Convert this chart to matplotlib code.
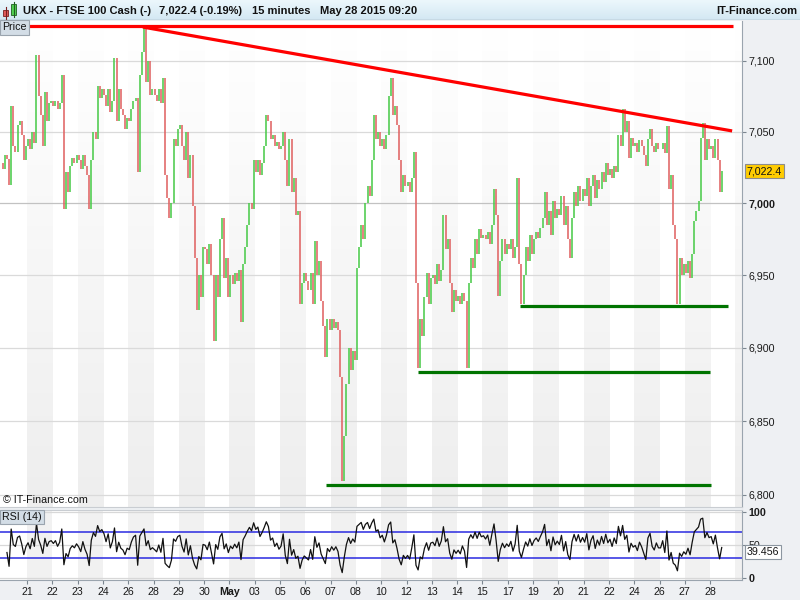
import numpy as np
import pandas as pd
import matplotlib
matplotlib.use('Agg')
import matplotlib.pyplot as plt
from matplotlib.colors import LinearSegmentedColormap
from matplotlib.patches import Rectangle

plt.rcParams['font.family'] = ['Liberation Sans', 'DejaVu Sans']

# UKX 15 min chart, resampled by eye to 12 closes per session (Apr 20 .. May 28 2015)
closes = [
    # Apr 20
    7024, 7034, 7031, 7013, 7068, 7040, 7036, 7055, 7058, 7048, 7030, 7040,
    # Apr 21
    7045, 7038, 7050, 7042, 7104, 7075, 7062, 7040, 7078, 7058, 7070, 7072,
    # Apr 22
    7068, 7072, 7066, 7070, 7090, 6996, 7022, 7008, 7026, 7032, 7028, 7034,
    # Apr 23
    7030, 7024, 7034, 7026, 7020, 6996, 7030, 7050, 7045, 7082, 7074, 7080,
    # Apr 24
    7076, 7068, 7080, 7064, 7072, 7102, 7058, 7080, 7066, 7062, 7052, 7060,
    # Apr 26/27
    7058, 7066, 7072, 7074, 7022, 7090, 7106, 7124, 7085, 7100, 7076, 7080,
    # Apr 28
    7076, 7072, 7080, 7070, 7088, 7020, 7004, 6990, 7000, 7045, 7040, 7052,
    # Apr 29
    7055, 7040, 7030, 7050, 7018, 7034, 6998, 6962, 6926, 6950, 6935, 6970,
    # Apr 30
    6968, 6958, 6972, 6950, 6905, 6950, 6935, 6975, 6990, 6948, 6962, 6935,
    # May 1
    6950, 6944, 6952, 6946, 6954, 6918, 6958, 6970, 6985, 7000, 6996, 7030,
    # May 3/4
    7022, 7030, 7020, 7028, 7040, 7062, 7058, 7045, 7048, 7040, 7043, 7038,
    # May 5
    7040, 7050, 7030, 7012, 7045, 7008, 7018, 6992, 6995, 6930, 6945, 6952,
    # May 6
    6946, 6940, 6952, 6930, 6974, 6950, 6960, 6932, 6915, 6894, 6920, 6912,
    # May 7
    6920, 6914, 6918, 6912, 6880, 6809, 6840, 6875, 6900, 6885, 6898, 6892,
    # May 8
    6955, 6970, 6985, 6975, 7000, 7012, 7005, 7030, 7062, 7045, 7050, 7040,
    # May 10/11
    7045, 7038, 7048, 7075, 7088, 7062, 7068, 7055, 7030, 7008, 7020, 7012,
    # May 12
    7015, 7008, 7018, 7036, 6945, 6886, 6920, 6908, 6935, 6952, 6930, 6948,
    # May 13
    6950, 6944, 6958, 6946, 6954, 6992, 6968, 6975, 6945, 6925, 6940, 6932,
    # May 14
    6936, 6930, 6938, 6932, 6886, 6945, 6962, 6955, 6975, 6965, 6982, 6976,
    # May 15
    6978, 6975, 6980, 6972, 6985, 7010, 6992, 6936, 6960, 6975, 6965, 6972,
    # May 17/18
    6968, 6975, 6962, 6970, 7018, 6958, 6930, 6950, 6970, 6960, 6978, 6965,
    # May 19
    6975, 6980, 6976, 6983, 6990, 7008, 6985, 6995, 6978, 7002, 6990, 6996,
    # May 20
    6992, 7005, 6985, 6998, 6975, 6962, 6990, 7008, 6998, 7012, 7002, 7010,
    # May 21
    7005, 7018, 6998, 7012, 7020, 7004, 7016, 7010, 7022, 7015, 7028, 7020,
    # May 22
    7024, 7018, 7026, 7022, 7048, 7040, 7066, 7050, 7058, 7032, 7046, 7040,
    # May 24/25
    7042, 7036, 7044, 7040, 7034, 7026, 7045, 7052, 7040, 7036, 7042, 7038,
    # May 26
    7038, 7042, 7035, 7054, 7010, 7020, 6985, 6975, 6930, 6962, 6950, 6958,
    # May 27
    6952, 6960, 6948, 6965, 6988, 6995, 7002, 7046, 7056, 7030, 7045, 7038,
    # May 28
    7040, 7032, 7045, 7030, 7008, 7022.4,
]
first_open = 7028
bars_per_day = 12

day_labels = ['21', '22', '23', '24', '26', '28', '29', '30', 'May', '03', '05', '06',
              '07', '08', '10', '12', '13', '14', '15', '17', '19', '20', '21', '22',
              '24', '26', '27', '28']
price_ticks = [6800, 6850, 6900, 6950, 7000, 7050, 7100]
last_price = 7022.4
last_rsi = 39.456
# RSI(14) on 15 min bars, rescaled to the coarser resampled bars
rsi_span = 4

# drawn trend lines: (day start, day end, price start, price end)
red_lines = [(-0.07, 28.9, 7125.0, 7125.0), (5.58, 28.87, 7124.0, 7050.7)]
green_lines = [(20.49, 28.72, 6928.7, 6928.7), (16.47, 27.99, 6883.6, 6883.6),
               (12.81, 28.03, 6806.4, 6806.4)]

UP = '#4ccb4c'
DOWN = '#e06464'
BORDER = '#9aa4ae'
XLIM = (-0.067, 29.26)
PRICE_LIM = (6791.6, 7128.3)
RSI_LIM = (-3.8, 103.8)


def rect(x0, y0, x1, y1):
    return [x0 / 800, 1 - y1 / 600, (x1 - x0) / 800, (y1 - y0) / 600]


fig = plt.figure(figsize=(8, 6), dpi=100, facecolor='#eef0f3')

# ---- title bar
tax = fig.add_axes(rect(0, 0, 800, 20))
bar_cmap = LinearSegmentedColormap.from_list('bar', ['#ecf7fc', '#d3e8f3'])
tax.imshow(np.linspace(0, 1, 50).reshape(-1, 1), cmap=bar_cmap, aspect='auto',
           extent=(0, 800, 20, 0))
tax.set_xlim(0, 800)
tax.set_ylim(20, 0)
tax.set_axis_off()
tax.plot([0, 800], [19.5, 19.5], color=BORDER, lw=1)
# little candle icon
tax.plot([5.5, 5.5], [7, 19], color='#7a2020', lw=0.8)
tax.add_patch(Rectangle((3, 10), 5, 6, facecolor='#e05a5a', edgecolor='#7a2020', lw=0.6))
tax.plot([13.5, 13.5], [2, 17], color='#206020', lw=0.8)
tax.add_patch(Rectangle((11, 4), 5, 11, facecolor='#50d050', edgecolor='#206020', lw=0.6))
title_kw = dict(fontsize=8, fontweight='bold', va='center', color='#111111')
tax.text(23, 10.5, 'UKX - FTSE 100 Cash (-)', **title_kw)
tax.text(159, 10.5, '7,022.4 (-0.19%)', **title_kw)
tax.text(252, 10.5, '15 minutes', **title_kw)
tax.text(320, 10.5, 'May 28 2015 09:20', **title_kw)
tax.text(797, 10.5, 'IT-Finance.com', ha='right', **title_kw)

# ---- price panel background (day bands, fading in towards the bottom)
prect = rect(0, 21, 742, 507)
bg = fig.add_axes(prect, zorder=0)
bg.set_xticks([])
bg.set_yticks([])
for s in bg.spines.values():
    s.set_visible(False)
band_cmap = LinearSegmentedColormap.from_list('band', ['#ffffff', '#eeeeee'])
for k in range(1, 30, 2):
    bg.imshow(np.linspace(0, 1, 64).reshape(-1, 1), cmap=band_cmap, aspect='auto',
              extent=(k, k + 1, 0, 1), vmin=0, vmax=1)
bg.set_xlim(*XLIM)
bg.set_ylim(0, 1)

ax = fig.add_axes(prect, zorder=1)
ax.patch.set_visible(False)
ax.set_yscale('log')
ax.set_xlim(*XLIM)
ax.set_ylim(*PRICE_LIM)

for p in price_ticks:
    ax.axhline(p, color='#c2c2c2' if p == 7000 else '#dadada', lw=0.9, zorder=1)

c = np.array(closes, dtype=float)
o = np.concatenate([[first_open], c[:-1]])
x = (np.arange(len(c)) + 0.5) / bars_per_day
cols = np.where(c >= o, UP, DOWN)
ax.vlines(x, np.minimum(o, c), np.maximum(o, c), colors=cols, lw=1.15, zorder=2)

for x0, x1, p0, p1 in red_lines:
    ax.plot([x0, x1], [p0, p1], color='#ff0000', lw=2.3, solid_capstyle='butt', zorder=3)
for x0, x1, p0, p1 in green_lines:
    ax.plot([x0, x1], [p0, p1], color='#007400', lw=2.3, solid_capstyle='butt', zorder=3)

ax.yaxis.tick_right()
ax.set_yticks(price_ticks, labels=[f'{p:,}' for p in price_ticks])
ax.yaxis.set_minor_locator(matplotlib.ticker.NullLocator())
ax.tick_params(axis='y', length=3, pad=1.5, color='#7c8690', labelsize=7.7,
               labelcolor='#1a1a1a')
for lab in ax.get_yticklabels():
    if lab.get_text() == '7,000':
        lab.set_fontweight('bold')
ax.set_xticks([])
for side in ['left', 'top']:
    ax.spines[side].set_visible(False)
ax.spines['right'].set_color(BORDER)
ax.spines['bottom'].set_color('#c9cdd2')

ax.text(1.0065, last_price, f'{last_price:,.1f}', transform=ax.get_yaxis_transform(),
        ha='left', va='center', fontsize=7.7, color='#111111', clip_on=False, zorder=5,
        bbox=dict(boxstyle='square,pad=0.18', facecolor='#ffcc00', edgecolor='#8c8c8c', lw=0.8))

fig.text(2.5 / 800, 1 - 27.5 / 600, 'Price', fontsize=7.7, va='center', color='#111111',
         bbox=dict(boxstyle='square,pad=0.2', facecolor='#d3dde6', edgecolor=BORDER, lw=0.8))
fig.text(3 / 800, 1 - 500 / 600, '\u00a9 IT-Finance.com', fontsize=7.7, va='center',
         color='#111111')

# ---- RSI panel
delta = np.diff(c, prepend=first_open)
gain = pd.Series(np.clip(delta, 0, None)).ewm(alpha=1 / rsi_span, adjust=False).mean()
loss = pd.Series(np.clip(-delta, 0, None)).ewm(alpha=1 / rsi_span, adjust=False).mean()
rsi = 100 - 100 / (1 + gain / loss.replace(0, np.nan))
rsi = rsi.fillna(100).to_numpy()

rax = fig.add_axes(rect(0, 510, 742, 580))
rax.set_facecolor('white')
rax.set_xlim(*XLIM)
rax.set_ylim(*RSI_LIM)
for k in range(1, 30, 2):
    rax.axvspan(k, k + 1, color='#f1f1f1', lw=0, zorder=0)
for lv in [0, 50, 100]:
    rax.axhline(lv, color='#d8d8d8', lw=0.9, zorder=1)
for lv in [30, 70]:
    rax.axhline(lv, color='#2a2ae0', lw=1.1, zorder=2)
rax.plot(x[2:], rsi[2:], color='#111111', lw=0.9, zorder=3)

rax.yaxis.tick_right()
rax.set_yticks([0, 50, 100], labels=['0', '50', '100'])
rax.tick_params(axis='y', length=3, pad=1.5, color='#7c8690', labelsize=7.7,
                labelcolor='#1a1a1a')
for lab in rax.get_yticklabels():
    if lab.get_text() in ('0', '100'):
        lab.set_fontweight('bold')
rax.set_xticks(np.arange(1, len(day_labels) + 1), labels=day_labels)
rax.tick_params(axis='x', length=3, pad=2, color='#7c8690', labelsize=7.7,
                labelcolor='#1a1a1a')
for lab in rax.get_xticklabels():
    if lab.get_text() == 'May':
        lab.set_fontweight('bold')
rax.spines['left'].set_visible(False)
rax.spines['top'].set_color('#c9cdd2')
rax.spines['right'].set_color(BORDER)
rax.spines['bottom'].set_color(BORDER)

rax.text(1.0065, last_rsi, f'{last_rsi:.3f}', transform=rax.get_yaxis_transform(),
         ha='left', va='center', fontsize=7.7, color='#111111', clip_on=False, zorder=5,
         bbox=dict(boxstyle='square,pad=0.18', facecolor='white', edgecolor='#8c96a0', lw=0.8))
fig.text(2.5 / 800, 1 - 517 / 600, 'RSI (14)', fontsize=7.7, va='center', color='#111111',
         bbox=dict(boxstyle='square,pad=0.2', facecolor='#d3dde6', edgecolor=BORDER, lw=0.8))

fig.savefig('out.png', dpi=100, facecolor=fig.get_facecolor())
